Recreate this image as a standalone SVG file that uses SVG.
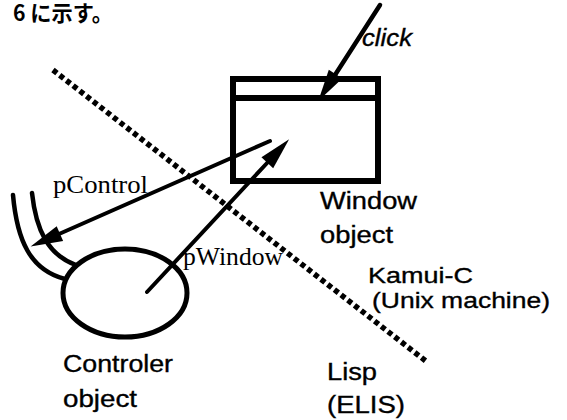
<svg xmlns="http://www.w3.org/2000/svg" width="567" height="420" viewBox="0 0 567 420">
<style>
.ln{fill:none;stroke:#000;stroke-linecap:round}
.sans{font-family:"Liberation Sans",Arial,sans-serif;font-size:23px;fill:#000;stroke:#000;stroke-width:0.35}
.sm{font-size:22px}
.serif{font-family:"Liberation Serif","Times New Roman",serif;font-size:26px;fill:#000}
.jp{font-family:"Noto Sans CJK JP","Noto Sans",sans-serif;font-size:22px;font-weight:bold;fill:#000}
</style>
<defs>
<marker id="head" markerUnits="userSpaceOnUse" markerWidth="34" markerHeight="18" refX="1" refY="8" orient="auto" overflow="visible">
<path d="M0,0 L32,8 L0,16 Z" fill="#000"/>
</marker>
</defs>
<rect width="567" height="420" fill="#fff"/>
<text class="jp" x="13" y="21" textLength="100" lengthAdjust="spacingAndGlyphs">6 に示す。</text>

<g id="boundary">
<line x1="53" y1="70" x2="427" y2="362" stroke="#000" stroke-width="5.5" stroke-dasharray="5 3.5"/>
</g>

<g id="window">
<rect x="233" y="79" width="145" height="102" fill="none" stroke="#000" stroke-width="6"/>
<line x1="233" y1="98" x2="378" y2="98" stroke="#000" stroke-width="6"/>
<text class="sans" x="320" y="209" textLength="97" lengthAdjust="spacingAndGlyphs">Window</text>
<text class="sans" x="320" y="243" textLength="73" lengthAdjust="spacingAndGlyphs">object</text>
</g>

<g id="controller">
<path class="ln" d="M13,195 C17,240 30,270 65,279" stroke-width="4.5"/>
<path class="ln" d="M32,193 C36,230 48,255 76,265" stroke-width="4.5"/>
<ellipse cx="125" cy="293" rx="62" ry="44" fill="none" stroke="#000" stroke-width="5"/>
<text class="sans" x="63" y="372" textLength="110" lengthAdjust="spacingAndGlyphs">Controler</text>
<text class="sans" x="63" y="407" textLength="74" lengthAdjust="spacingAndGlyphs">object</text>
</g>

<g id="connectors">
<line class="ln" x1="380" y1="5" x2="335" y2="75" stroke-width="4.5" marker-end="url(#head)"/>
<line class="ln" x1="270" y1="141" x2="59" y2="234" stroke-width="4" marker-end="url(#head)"/>
<line class="ln" x1="147" y1="292" x2="268" y2="162" stroke-width="4" marker-end="url(#head)"/>
</g>

<g id="labels">
<text class="sans" x="362" y="46" font-style="italic" textLength="50" lengthAdjust="spacingAndGlyphs">click</text>
<text class="serif" x="53" y="193" textLength="95" lengthAdjust="spacingAndGlyphs">pControl</text>
<text class="serif" x="183" y="265" textLength="100" lengthAdjust="spacingAndGlyphs">pWindow</text>
<text class="sans sm" x="368" y="283" textLength="105" lengthAdjust="spacingAndGlyphs">Kamui-C</text>
<text class="sans sm" x="372" y="308" textLength="178" lengthAdjust="spacingAndGlyphs">(Unix machine)</text>
<text class="sans" x="327" y="380" textLength="50" lengthAdjust="spacingAndGlyphs">Lisp</text>
<text class="sans" x="327" y="413" textLength="78" lengthAdjust="spacingAndGlyphs">(ELIS)</text>
</g>
</svg>
